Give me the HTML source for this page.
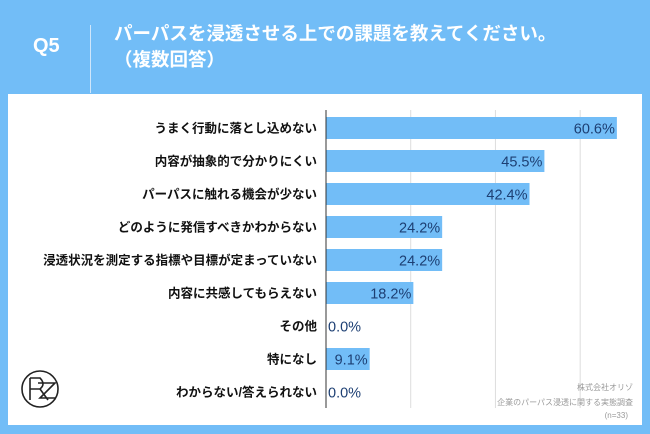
<!DOCTYPE html>
<html><head><meta charset="utf-8"><style>
body{margin:0;width:650px;height:434px;background:#72bdf7;font-family:"Liberation Sans","Noto Sans CJK JP",sans-serif;position:relative;overflow:hidden}
.t{position:absolute;color:#fff;font-weight:bold}
</style></head><body>
<div class="t" style="left:33px;top:35px;font-size:20px">Q5</div>
<div style="position:absolute;left:90px;top:25px;width:1px;height:68px;background:#cfe6fb"></div>
<div class="t" style="left:114px;top:21px;font-size:18.5px;line-height:26px">パーパスを浸透させる上での課題を教えてください。<br>（複数回答）</div>
<div style="position:absolute;left:8px;top:94px;width:634px;height:331px;background:#fff"></div>
<svg width="650" height="434" style="position:absolute;left:0;top:0">
<g id="g"></g>
<g fill="none" stroke="#222" stroke-width="1.6">
<circle cx="40" cy="389" r="18"/><path d="M30 378 L30 400 M30 378 L40 378 Q46 384 40 389 L30 389 M40 389 L48 400 M38 383 L55 383 L40 398 L55 398"/>
</g>
<text x="633" y="390" text-anchor="end" font-size="8" fill="#999">株式会社オリゾ</text>
<text x="633" y="405" text-anchor="end" font-size="8" fill="#999">企業のパーパス浸透に関する実態調査</text>
<text x="628" y="418" text-anchor="end" font-size="8" fill="#999">(n=33)</text>
</svg>
<script>
const categories=["うまく行動に落とし込めない","内容が抽象的で分かりにくい","パーパスに触れる機会が少ない","どのように発信すべきかわからない","浸透状況を測定する指標や目標が定まっていない","内容に共感してもらえない","その他","特になし","わからない/答えられない"];
const values=[60.6,45.5,42.4,24.2,24.2,18.2,0.0,9.1,0.0];
const gridValues=[17.65,35.3,52.95];
const NS="http://www.w3.org/2000/svg",g=document.getElementById('g');
const x0=326,sx=v=>x0+v*4.8,y0=128,step=33.0,yc=i=>y0+i*step;
function el(t,a){const e=document.createElementNS(NS,t);for(const k in a)e.setAttribute(k,a[k]);g.appendChild(e);return e;}
gridValues.forEach(v=>{const l=el('line',{x1:sx(v),x2:sx(v),y1:110,y2:408,stroke:'#ddd'});

});
categories.forEach((c,i)=>{
const y=yc(i);
const r=el('rect',{x:x0,y:y-11,width:values[i]*4.8,height:22,fill:'#72bdf7'});


const t=el('text',{x:317,y:y+4.5,'text-anchor':'end','font-size':'12.5','font-weight':'bold',fill:'#111'});t.textContent=c;


const w=values[i]*4.8,inside=w>40;
const v=el('text',{x:inside?sx(values[i])-2:x0+2,y:y+5.5,'text-anchor':inside?'end':'start','font-size':'14.5',fill:'#1d3f73'});v.textContent=values[i].toFixed(1)+'%';
if(!inside&&values[i]>0){v.setAttribute('x',x0+6);}


});
const ax=el('line',{x1:x0,x2:x0,y1:110,y2:408,stroke:'#333'});


</script>
</body></html>
